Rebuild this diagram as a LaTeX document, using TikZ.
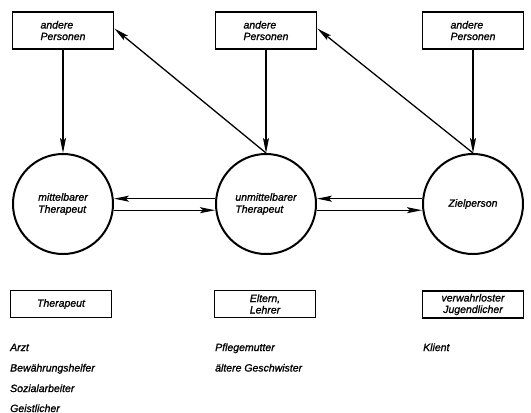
\documentclass[tikz,border=0pt]{standalone}
\usepackage{fontspec}
\setmainfont{Liberation Sans}[ItalicFeatures={FakeBold=1.2}]
\usetikzlibrary{arrows.meta}

\tikzset{
  box/.style={draw, line width=1.7pt, minimum width=101pt, inner sep=0pt, align=left,
    font=\itshape\fontsize{10.5}{11.5}\selectfont},
  role/.style={draw, line width=2pt, circle, minimum size=100pt, inner sep=0pt, align=left,
    font=\itshape\fontsize{10.5}{12}\selectfont},
  arr/.style={line width=1.3pt, -{Stealth[length=15pt,width=6pt,inset=3pt]}},
  item/.style={anchor=base west, inner sep=0pt, font=\itshape\fontsize{10.5}{12}\selectfont}
}

\begin{document}
\begin{tikzpicture}[x=1pt, y=-1pt]
            \useasboundingbox (0,0) rectangle (531,413);
            % andere Personen
            \node[box, minimum height=37pt] (p1) at ( 63, 30.5) {andere\\Personen};
            \node[box, minimum height=37pt] (p2) at (266, 30.5) {andere\\Personen};
            \node[box, minimum height=37pt] (p3) at (473, 30.5) {andere\\Personen};
            % Therapeuten und Zielperson
            \node[role] (c1) at ( 63, 204) {mittelbarer\\Therapeut};
            \node[role] (c2) at (266, 204) {unmittelbarer\\Therapeut};
            \node[role] (c3) at (473, 204) {Zielperson};
            % Einfluss der anderen Personen
            \draw[arr] (p1) -- (c1);
            \draw[arr] (p2) -- (c2);
            \draw[arr] (p3) -- (c3);
            % Rueckwirkung nach oben
            \draw[arr] (c2.north) -- ([yshift=2pt]p1.east);
            \draw[arr] (c3.north) -- ([yshift=2pt]p2.east);
            % Wechselwirkung
            \draw[arr] (c2.174) -- (c2.174 -| c1.east);
            \draw[arr] (c1.-7) -- (c1.-7 -| c2.west);
            \draw[arr] (c3.174) -- (c3.174 -| c2.east);
            \draw[arr] (c2.-7) -- (c2.-7 -| c3.west);
            % Rollen
            \node[box, align=center, minimum height=27pt] (r1) at ( 61, 304) {Therapeut};
            \node[box, align=center, minimum height=27pt] (r2) at (265, 304) {Eltern,\\Lehrer};
            \node[box, align=center, minimum height=27pt] (r3) at (473, 304.5) {verwahrloster\\Jugendlicher};
            % Beispiele
            \node[item] (e1) at ( 10, 351) {Arzt};
            \node[item] (e2) at ( 10, 371.5) {Bewährungshelfer};
            \node[item] (e3) at ( 10, 392) {Sozialarbeiter};
            \node[item] (e4) at ( 10, 412) {Geistlicher};
            \node[item] (e5) at (215, 351) {Pflegemutter};
            \node[item] (e6) at (215, 371.5) {ältere Geschwister};
            \node[item] (e7) at (423, 351) {Klient};
\end{tikzpicture}
\end{document}
